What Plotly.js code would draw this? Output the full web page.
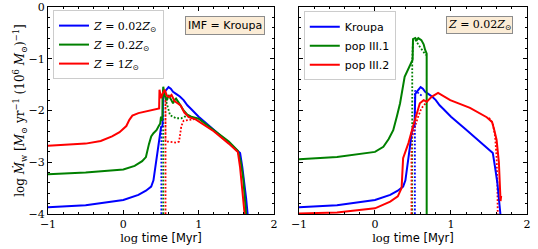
<!DOCTYPE html>
<html>
<head>
<meta charset="utf-8">
<script src="https://cdn.plot.ly/plotly-3.0.1.min.js"></script>
<style>html,body{margin:0;padding:0;background:#fff;}#chart{width:538px;height:249px;}</style>
</head>
<body>
<div id="chart"></div>
<script>
// ---------- data (log time [Myr], log Mdot_w) ----------
// Left panel: IMF = Kroupa, three metallicities
const z002T = [-1, -0.5, 0, 0.2, 0.3, 0.37, 0.4, 0.43, 0.46, 0.48, 0.5, 0.52, 0.53, 0.56, 0.6, 0.63, 0.66, 0.7, 0.75, 0.8, 0.85, 0.9, 1.0, 1.2, 1.4, 1.55, 1.58, 1.61, 1.63, 1.65];
const z002W = [-3.87, -3.83, -3.73, -3.63, -3.55, -3.47, -3.35, -3.05, -2.7, -2.45, -2.33, -2.3, -1.68, -1.62, -1.55, -1.58, -1.64, -1.68, -1.73, -1.8, -1.9, -1.97, -2.12, -2.37, -2.62, -2.82, -3.1, -3.4, -3.7, -4.0];
const z002DotT = [0.505, 0.505];
const z002DotW = [-4.0, -2.3];

const z02T = [-1, -0.5, 0, 0.15, 0.25, 0.3, 0.34, 0.37, 0.4, 0.44, 0.47, 0.49, 0.5, 0.51, 0.52, 0.52, 0.53, 0.55, 0.58, 0.6, 0.63, 0.66, 0.68, 0.7, 0.75, 0.8, 0.85, 0.9, 1.0, 1.2, 1.4, 1.52, 1.56, 1.59, 1.61, 1.63];
const z02W = [-3.23, -3.2, -3.14, -3.07, -2.98, -2.9, -2.65, -2.5, -2.44, -2.38, -2.3, -2.25, -2.12, -2.2, -2.1, -1.8, -1.54, -1.72, -1.8, -1.7, -1.78, -1.86, -1.8, -1.77, -1.88, -2.0, -2.08, -2.12, -2.16, -2.38, -2.6, -2.78, -3.0, -3.3, -3.6, -4.0];
const z02DotT = [0.53, 0.53, 0.55, 0.57, 0.62, 0.7, 0.77, 0.81, 0.87, 0.96];
const z02DotW = [-4.0, -1.6, -1.72, -1.83, -2.09, -2.15, -2.15, -2.12, -2.12, -2.15];

const z1T = [-1, -0.5, -0.3, -0.15, -0.05, 0, 0.04, 0.08, 0.12, 0.2, 0.3, 0.4, 0.46, 0.475, 0.48, 0.5, 0.52, 0.55, 0.58, 0.61, 0.64, 0.68, 0.72, 0.76, 0.81, 0.87, 0.96, 1.2, 1.4, 1.52, 1.55, 1.58, 1.61];
const z1W = [-2.68, -2.64, -2.59, -2.5, -2.42, -2.36, -2.3, -2.18, -2.1, -2.05, -2.02, -1.99, -1.97, -1.96, -1.6, -1.76, -1.68, -1.6, -1.72, -1.74, -1.7, -1.82, -1.86, -1.9, -2.04, -2.13, -2.17, -2.4, -2.64, -2.8, -3.1, -3.5, -4.0];
const z1DotT = [0.56, 0.56, 0.56, 0.6, 0.7, 0.74, 0.77, 0.8, 0.9, 0.97];
const z1DotW = [-4.0, -1.68, -2.6, -2.6, -2.62, -2.6, -2.3, -2.2, -2.18, -2.16];

// Right panel: Z = 0.02 Zsun, three IMFs
const kroupaDotT = [0.525, 0.525, 0.56, 0.62];
const kroupaDotW = [-4.0, -1.62, -1.65, -1.72];

const pop31T = [-1, -0.5, 0, 0.11, 0.18, 0.24, 0.29, 0.33, 0.39, 0.44, 0.48, 0.495, 0.5, 0.53, 0.55, 0.57, 0.61, 0.64, 0.66, 0.68, 0.68];
const pop31W = [-2.94, -2.9, -2.8, -2.7, -2.55, -2.38, -2.1, -1.86, -1.35, -1.19, -1.05, -1.02, -0.62, -0.6, -0.64, -0.6, -0.64, -0.72, -0.83, -0.9, -4.0];
const pop31DotT = [0.49, 0.49, 0.5, 0.53, 0.58, 0.65, 0.67];
const pop31DotW = [-4.0, -1.05, -0.64, -0.63, -0.75, -0.9, -0.93];

const pop32T = [-1, -0.5, 0, 0.2, 0.3, 0.35, 0.37, 0.44, 0.5, 0.55, 0.59, 0.64, 0.68, 0.75, 0.83, 0.99, 1.25, 1.47, 1.54, 1.57, 1.6, 1.63, 1.648, 1.652, 1.66];
const pop32W = [-3.99, -3.97, -3.89, -3.76, -3.66, -3.5, -2.92, -2.63, -2.31, -2.05, -1.86, -1.8, -1.83, -1.73, -1.66, -1.8, -1.95, -2.13, -2.22, -2.38, -2.57, -3.0, -3.67, -3.75, -3.65];
const pop32DotT = [0.48, 0.48, 0.52, 0.56, 0.61, 0.66, 0.7, null, 1.5, 1.55, 1.58, 1.6, 1.61, 1.615];
const pop32DotW = [-4.0, -2.55, -2.35, -2.15, -1.96, -1.87, -1.8, null, -2.14, -2.25, -2.5, -2.9, -3.4, -4.0];

const leftNames = ['<i>Z</i> = 0.02<i>Z</i><sub>⊙</sub>', '<i>Z</i> = 0.2<i>Z</i><sub>⊙</sub>', '<i>Z</i> = 1<i>Z</i><sub>⊙</sub>'];
const rightNames = ['Kroupa', 'pop III.1', 'pop III.2'];
const xTickVals = [-1, 0, 1, 2];
const yTickVals = [-4, -3, -2, -1, 0];

// ---------- styling ----------
const BLUE = '#0000ff', GREEN = '#008000', RED = '#ff0000';
const SERIF = 'DejaVu Serif';
const SANS = 'DejaVu Sans';
const LW = 2, DW = 1.8, DASH = '1.8px,1.8px';

function solid(x, y, c, name, xa, ya, leg) {
  return {x: x, y: y, type: 'scatter', mode: 'lines', name: name, line: {color: c, width: LW},
          xaxis: xa, yaxis: ya, legend: leg, showlegend: true, connectgaps: false};
}
function dotted(x, y, c, xa, ya) {
  return {x: x, y: y, type: 'scatter', mode: 'lines', line: {color: c, width: DW, dash: DASH},
          xaxis: xa, yaxis: ya, showlegend: false, connectgaps: false, hoverinfo: 'skip'};
}

const traces = [
  dotted(z002DotT, z002DotW, BLUE, 'x', 'y'),
  dotted(z02DotT, z02DotW, GREEN, 'x', 'y'),
  dotted(z1DotT, z1DotW, RED, 'x', 'y'),
  solid(z002T, z002W, BLUE, leftNames[0], 'x', 'y', 'legend'),
  solid(z02T, z02W, GREEN, leftNames[1], 'x', 'y', 'legend'),
  solid(z1T, z1W, RED, leftNames[2], 'x', 'y', 'legend'),
  dotted(kroupaDotT, kroupaDotW, BLUE, 'x2', 'y2'),
  dotted(pop31DotT, pop31DotW, GREEN, 'x2', 'y2'),
  dotted(pop32DotT, pop32DotW, RED, 'x2', 'y2'),
  solid(z002T, z002W, BLUE, rightNames[0], 'x2', 'y2', 'legend2'),
  solid(pop31T, pop31W, GREEN, rightNames[1], 'x2', 'y2', 'legend2'),
  solid(pop32T, pop32W, RED, rightNames[2], 'x2', 'y2', 'legend2')
];

const tickFont = {family: SERIF, size: 11, color: '#000'};
function xAxis(domain, anchor) {
  return {domain: domain, anchor: anchor, range: [-1, 2], tickvals: xTickVals, ticks: 'inside', ticklen: 4,
          tickcolor: '#000', showline: true, linecolor: '#000', linewidth: 1, mirror: 'allticks',
          showgrid: false, zeroline: false, tickfont: tickFont,
          minor: {dtick: 0.2, ticks: 'inside', ticklen: 2, tickcolor: '#000', showgrid: false},
          title: {text: 'log <span style="font-family:DejaVu Sans">time [Myr]</span>', font: {family: SERIF, size: 11.5, color: '#000'}, standoff: 0}};
}
function yAxis(anchor, showLabels, title) {
  return {domain: [0, 1], anchor: anchor, range: [-4, 0], tickvals: yTickVals, ticks: 'inside', ticklen: 4,
          tickcolor: '#000', showline: true, linecolor: '#000', linewidth: 1, mirror: 'allticks',
          showgrid: false, zeroline: false, tickfont: tickFont, showticklabels: showLabels,
          minor: {dtick: 0.2, ticks: 'inside', ticklen: 2, tickcolor: '#000', showgrid: false},
          title: {text: title, font: {family: SERIF, size: 12, color: '#000'}, standoff: 0}};
}

const layout = {
  width: 538, height: 249,
  margin: {l: 48, r: 11, t: 7, b: 35},
  paper_bgcolor: '#fff', plot_bgcolor: '#fff',
  xaxis: xAxis([0, 0.4718], 'y'),
  yaxis: yAxis('x', true, 'log <i>Ṁ</i><sub>w</sub> [<i>M</i><sub>⊙</sub> yr<sup>−1</sup> (10<sup>6</sup> <i>M</i><sub>⊙</sub>)<sup>−1</sup>]'),
  xaxis2: xAxis([0.524, 1.0], 'y2'),
  yaxis2: yAxis('x2', false, ''),
  legend: {x: 0.0104, y: 0.985, xanchor: 'left', yanchor: 'top', bgcolor: '#fff', bordercolor: '#cccccc', borderwidth: 1,
           font: {family: SERIF, size: 11, color: '#000'}, tracegroupgap: 0, itemwidth: 30},
  legend2: {x: 0.534, y: 0.98, xanchor: 'left', yanchor: 'top', bgcolor: '#fff', bordercolor: '#cccccc', borderwidth: 1,
            font: {family: SANS, size: 11, color: '#000'}, tracegroupgap: 0, itemwidth: 30},
  annotations: [
    {xref: 'x', yref: 'y', x: 1.35, y: -0.36, text: 'IMF = Kroupa', showarrow: false,
     font: {family: SANS, size: 11, color: '#000'}, bgcolor: '#fbecd6', bordercolor: '#8c8c8c', borderwidth: 1, borderpad: 2},
    {xref: 'x2', yref: 'y2', x: 1.38, y: -0.35, text: '<i>Z</i> = 0.02<i>Z</i><sub>⊙</sub>', showarrow: false,
     font: {family: SERIF, size: 11, color: '#000'}, bgcolor: '#fbecd6', bordercolor: '#8c8c8c', borderwidth: 1, borderpad: 1}
  ]
};

Plotly.newPlot('chart', traces, layout, {staticPlot: true, displayModeBar: false});
</script>
</body>
</html>
